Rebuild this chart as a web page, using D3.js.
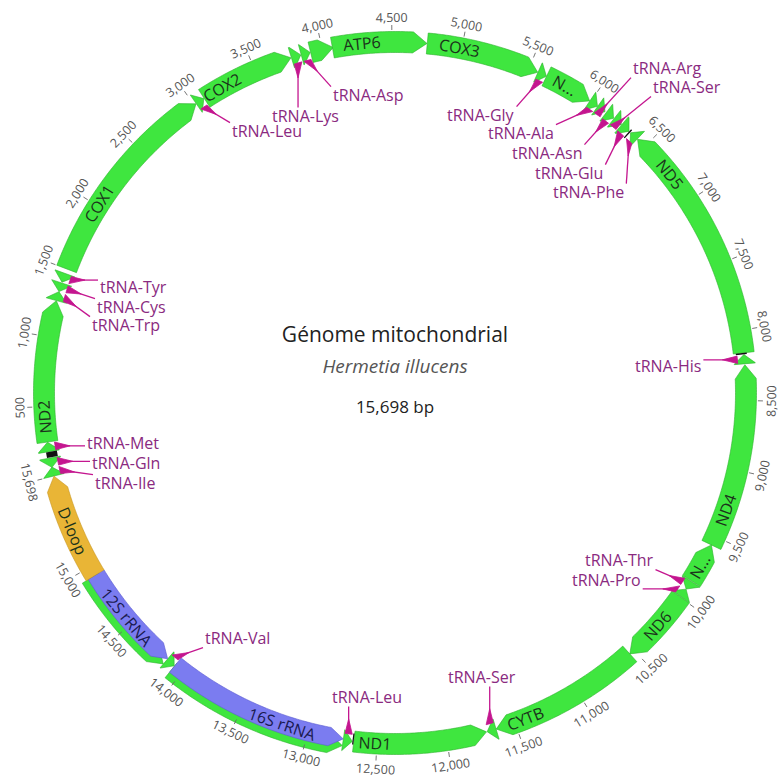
<!DOCTYPE html>
<html><head><meta charset="utf-8">
<script src="https://cdn.jsdelivr.net/npm/d3@7"></script>
<style>body{margin:0;background:#fff}svg{display:block}</style>
</head><body><svg id="chart" width="779" height="781"></svg>
<script>
// ---------------- DATA ----------------
const genomeLength = 15698;
const featureNames = ["tRNA-Ile","tRNA-Gln","misc","tRNA-Met","ND2","tRNA-Trp","tRNA-Cys","tRNA-Tyr","COX1","tRNA-Leu","COX2","tRNA-Lys","tRNA-Asp","ATP8","ATP6","COX3","tRNA-Gly","ND3","tRNA-Ala","tRNA-Arg","tRNA-Asn","tRNA-Ser","tRNA-Glu","misc","tRNA-Phe","ND5","misc","tRNA-His","ND4","ND4L","tRNA-Thr","tRNA-Pro","ND6","CYTB","tRNA-Ser","ND1","misc","tRNA-Leu","16S rRNA","tRNA-Val","12S rRNA","D-loop"];
const featureStarts = [1,64,136,178,247,1263,1330,1400,1500,3018,3086,3773,3846,3915,4074,4752,5570,5637,5992,6060,6135,6205,6275,6346,6360,6428,8160,8172,8245,9565,9862,9928,9996,10540,11641,11712,12666,12676,12742,14071,14139,14931];
const featureEnds   = [66,132,176,246,1262,1329,1394,1466,3016,3083,3770,3843,3912,4080,4750,5568,5636,5990,6058,6124,6201,6272,6345,6356,6425,8160,8170,8238,9565,9858,9927,9993,10540,11640,11707,12665,12675,12741,14068,14138,14930,15698];
const featureStrands = [1,-1,1,1,1,1,-1,-1,1,1,1,1,1,1,1,1,1,1,1,1,1,1,1,1,-1,-1,1,-1,-1,-1,1,-1,1,1,1,-1,1,-1,-1,-1,-1,1];
const featureTypes = ["tRNA","tRNA","misc","tRNA","gene","tRNA","tRNA","tRNA","gene","tRNA","gene","tRNA","tRNA","gene","gene","gene","tRNA","gene","tRNA","tRNA","tRNA","tRNA","tRNA","misc","tRNA","gene","misc","tRNA","gene","gene","tRNA","tRNA","gene","gene","tRNA","gene","misc","tRNA","rRNA","tRNA","rRNA","dloop"];
const geneLabelNames = ["ND2","COX1","COX2","ATP6","COX3","ND3","ND5","ND4","ND4L","ND6","CYTB","ND1","16S rRNA","12S rRNA","D-loop"];
const geneLabelTexts = ["ND2","COX1","COX2","ATP6","COX3","N...","ND5","ND4","N...","ND6","CYTB","ND1","16S rRNA","12S rRNA","D-loop"];
const geneLabelAt = [427,2020,3235,4286,4983,5782,6767,9296,9740,10259,11419,12513,13193,14558,15286];
const tickValues = [500,1000,1500,2000,2500,3000,3500,4000,4500,5000,5500,6000,6500,7000,7500,8000,8500,9000,9500,10000,10500,11000,11500,12000,12500,13000,13500,14000,14500,15000,15698];
const tickLabels = ["500","1,000","1,500","2,000","2,500","3,000","3,500","4,000","4,500","5,000","5,500","6,000","6,500","7,000","7,500","8,000","8,500","9,000","9,500","10,000","10,500","11,000","11,500","12,000","12,500","13,000","13,500","14,000","14,500","15,000","15,698"];
const titleLines = ["Génome mitochondrial","Hermetia illucens","15,698 bp"];

// ---------------- LAYOUT (separate from data) ----------------
// tRNA label text placement (left x, middle y), in order of tRNA features
const trnaLabelXY = [[95,483],[92,463],[87,443],[92,325],[97,307],[100,287],[232,131],[272,116],[333,95],[447,115],[488,133],[633,68],[512,153],[653,87],[535,173],[553,192],[635,366],[585,560],[572,580],[448,677],[332,697],[205,638]];
const cx = 395, cy = 393, R = 351, HW = 10.5;
const theta0 = 256.3 * Math.PI / 180;
const colors = {gene:"#3fe63f", geneStroke:"#2eb02e", rRNA:"#7b7cf0", rRNAStroke:"#5a5bd0", dloop:"#e9b536", dloopStroke:"#c89520", misc:"#111", trna:"#c4168f", trnaText:"#8a2a80", label:"#1b331b", tick:"#555"};

// ---------------- DRAW ----------------
const feats = featureNames.map((n,i)=>({name:n,start:featureStarts[i],end:featureEnds[i],strand:featureStrands[i],type:featureTypes[i]}));
const angle = d3.scaleLinear().domain([0, genomeLength]).range([theta0, theta0 + 2*Math.PI]);
const svg = d3.select("#chart");
const g = svg.append("g").attr("transform", `translate(${cx},${cy})`);
const polar = (a, r) => [r*Math.sin(a), -r*Math.cos(a)];
const radial = d3.lineRadial().angle(d=>d[0]).radius(d=>d[1]).curve(d3.curveLinearClosed);

function arrowPts(f, rIn, rOut, headPx){
  const a0 = angle(f.start), a1 = angle(f.end);
  const rm = (rIn + rOut)/2, span = a1 - a0;
  let h = Math.min(headPx / rm, span);
  const pts = [];
  const n = Math.max(2, Math.ceil(span*rm/3));
  if (f.strand > 0){
    const b = a1 - h;
    for (let i=0;i<=n;i++) pts.push([a0+(b-a0)*i/n, rOut]);
    pts.push([a1, rm]);
    for (let i=n;i>=0;i--) pts.push([a0+(b-a0)*i/n, rIn]);
  } else {
    const b = a0 + h;
    for (let i=0;i<=n;i++) pts.push([b+(a1-b)*i/n, rOut]);
    for (let i=n;i>=0;i--) pts.push([b+(a1-b)*i/n, rIn]);
    pts.push([a0, rm]);
  }
  return pts;
}

// rRNA green underlay
g.selectAll("path.under").data(feats.filter(f=>f.type==="rRNA")).join("path")
  .attr("d", f=>radial(arrowPts(f, R-4, R+15, 14)))
  .attr("fill", colors.gene).attr("stroke", colors.geneStroke).attr("stroke-width",0.6);

// main features
g.selectAll("path.feat").data(feats.filter(f=>f.type!=="misc")).join("path")
  .attr("d", f=>{
    if (f.type==="rRNA") return radial(arrowPts(f, R-HW, R+8, 14));
    if (f.type==="tRNA") return radial(arrowPts(f, R-HW, R+HW, 9));
    return radial(arrowPts(f, R-HW, R+HW, 14));
  })
  .attr("fill", f=> f.type==="rRNA"?colors.rRNA : f.type==="dloop"?colors.dloop : colors.gene)
  .attr("stroke", f=> f.type==="rRNA"?colors.rRNAStroke : f.type==="dloop"?colors.dloopStroke : colors.geneStroke)
  .attr("stroke-width",0.6).attr("stroke-linejoin","round");

// misc black marks
const arcGen = d3.arc();
g.selectAll("path.misc").data(feats.filter(f=>f.type==="misc")).join("path")
  .attr("d", f=>arcGen({innerRadius:R-8, outerRadius:R+3, startAngle:angle(f.start), endAngle:angle(f.end)}))
  .attr("fill", colors.misc);

// ticks
const degOf = a => ((a*180/Math.PI)%360+360)%360;
const isFlip = d => d>=90 && d<=262;
const tickG = g.append("g");
tickValues.forEach((v,i)=>{
  const a = angle(v % genomeLength === 0 ? 0 : v);
  const p1 = polar(a, R+12), p2 = polar(a, R+17);
  tickG.append("line").attr("x1",p1[0]).attr("y1",p1[1]).attr("x2",p2[0]).attr("y2",p2[1])
    .attr("stroke", "#666").attr("stroke-width",0.9);
  const d = degOf(a), flip = isFlip(d);
  const p = polar(a, flip ? R+21 : R+20);
  tickG.append("text").attr("transform",`translate(${p[0]},${p[1]}) rotate(${flip? d-180 : d})`)
    .attr("text-anchor","middle").attr("dy", flip? "0.72em":"0")
    .attr("font-family","Open Sans").attr("font-size",12.5).attr("fill",colors.tick)
    .text(tickLabels[i]);
});

// gene labels
geneLabelNames.forEach((n,i)=>{
  const f = feats.find(ff=>ff.name===n);
  const a = angle(geneLabelAt[i]);
  const d = degOf(a), flip = isFlip(d);
  const rr = f.type==="rRNA" ? R-1 : R;
  const p = polar(a, rr);
  g.append("text").attr("transform",`translate(${p[0]},${p[1]}) rotate(${flip? d-180 : d})`)
    .attr("text-anchor","middle").attr("dy","0.36em")
    .attr("font-family","Open Sans").attr("font-size",16).attr("fill", f.type==="rRNA"?"#1a1a50": colors.label)
    .text(geneLabelTexts[i]);
});

// tRNA labels with leader lines and wedges
const trnas = feats.filter(f=>f.type==="tRNA");
const lblG = svg.append("g");
trnas.forEach((f,i)=>{
  const [lx, ly] = trnaLabelXY[i];
  const t = lblG.append("text").attr("x",lx).attr("y",ly).attr("dy","0.35em")
    .attr("font-family","Open Sans").attr("font-size",16).attr("fill",colors.trnaText).text(f.name);
  const bb = t.node().getBBox();
  const am = angle((f.start+f.end)/2);
  const base = polar(am, R-7);
  const bx = base[0]+cx, by = base[1]+cy;
  const pad = 2;
  const ax = Math.max(bb.x-pad, Math.min(bx, bb.x+bb.width+pad));
  const ay = Math.max(bb.y+3, Math.min(by, bb.y+bb.height-1));
  const dx = ax-bx, dy = ay-by, L = Math.hypot(dx,dy);
  const ux = dx/L, uy = dy/L;
  const apx = bx+ux*15, apy = by+uy*15;
  const b0 = polar(angle(f.start+6), R-7), b1 = polar(angle(f.end-6), R-7);
  lblG.append("path").attr("d", `M${b0[0]+cx},${b0[1]+cy}L${b1[0]+cx},${b1[1]+cy}L${apx},${apy}Z`)
    .attr("fill",colors.trna).attr("stroke",colors.trna).attr("stroke-width",0.8).attr("stroke-linejoin","round");
  lblG.append("line").attr("x1",bx).attr("y1",by).attr("x2",ax).attr("y2",ay)
    .attr("stroke",colors.trna).attr("stroke-width",1.3);
});

// center title
svg.append("text").attr("x",cx).attr("y",335).attr("dy","0.35em").attr("text-anchor","middle")
  .attr("font-family","Open Sans").attr("font-size",21).attr("fill","#222").text(titleLines[0]);
svg.append("text").attr("x",cx).attr("y",366).attr("dy","0.35em").attr("text-anchor","middle")
  .attr("font-family","Open Sans").attr("font-style","italic").attr("font-size",19).attr("fill","#555").text(titleLines[1]);
svg.append("text").attr("x",cx).attr("y",407).attr("dy","0.35em").attr("text-anchor","middle")
  .attr("font-family","Open Sans").attr("font-size",17).attr("fill","#222").text(titleLines[2]);
</script></body></html>
